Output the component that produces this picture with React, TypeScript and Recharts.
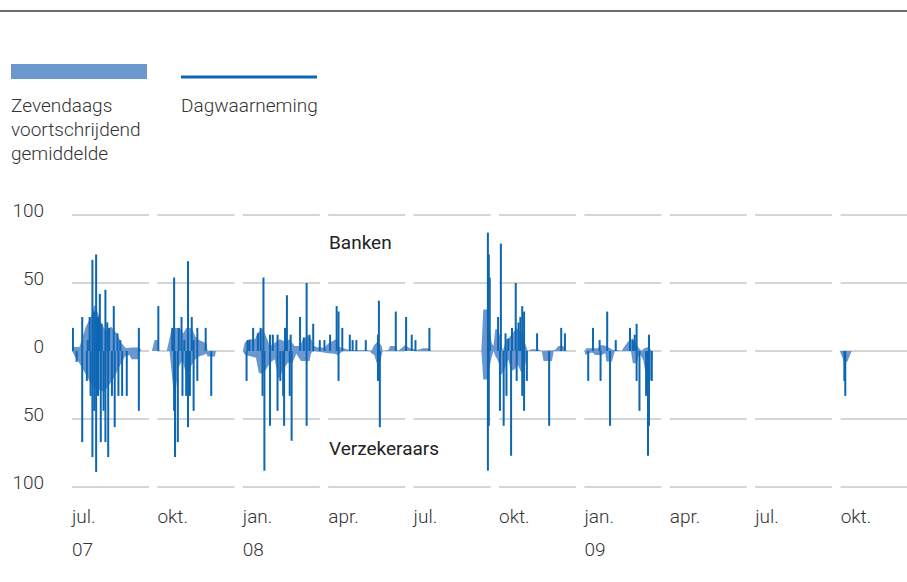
import { Area, Bar, CartesianGrid, ComposedChart, XAxis, YAxis } from 'recharts'

// dagwaarneming banken (datum, waarde)
const bankDaily: [string, number][] = [
  ['2007-07-02', 17], ['2007-07-12', 25], ['2007-07-18', 8], ['2007-07-20', 25], ['2007-07-23', 67],
  ['2007-07-25', 29], ['2007-07-27', 71], ['2007-07-29', 25], ['2007-07-31', 42], ['2007-08-02', 20],
  ['2007-08-06', 45], ['2007-08-08', 21], ['2007-08-10', 17], ['2007-08-15', 33], ['2007-08-19', 13],
  ['2007-08-22', 8], ['2007-09-11', 17],
  ['2007-10-02', 33], ['2007-10-17', 17], ['2007-10-19', 54], ['2007-10-24', 17], ['2007-10-27', 25],
  ['2007-10-30', 8], ['2007-11-03', 66], ['2007-11-07', 25], ['2007-11-09', 8], ['2007-11-13', 17],
  ['2007-11-22', 17],
  ['2008-01-06', 8], ['2008-01-08', 8], ['2008-01-12', 17], ['2008-01-17', 13], ['2008-01-20', 17],
  ['2008-01-23', 54], ['2008-01-30', 12], ['2008-02-02', 12], ['2008-02-07', 12], ['2008-02-15', 17],
  ['2008-02-17', 41], ['2008-02-21', 12], ['2008-03-02', 25], ['2008-03-06', 10], ['2008-03-09', 50],
  ['2008-03-12', 12], ['2008-03-16', 20], ['2008-03-23', 8], ['2008-03-28', 8],
  ['2008-04-03', 12], ['2008-04-10', 33], ['2008-04-12', 29], ['2008-04-16', 17], ['2008-04-24', 12],
  ['2008-04-27', 8], ['2008-05-01', 8], ['2008-05-11', 8], ['2008-05-24', 12], ['2008-05-25', 37],
  ['2008-06-12', 29], ['2008-06-23', 25], ['2008-06-29', 12],
  ['2008-07-03', 8], ['2008-07-18', 17], ['2008-09-19', 87], ['2008-09-20', 71], ['2008-09-21', 54],
  ['2008-09-30', 25],
  ['2008-10-03', 79], ['2008-10-08', 13], ['2008-10-11', 9], ['2008-10-15', 17], ['2008-10-19', 50],
  ['2008-10-22', 21], ['2008-10-24', 25], ['2008-10-26', 33], ['2008-10-28', 29], ['2008-11-11', 13],
  ['2008-12-07', 17], ['2008-12-11', 13],
  ['2009-01-10', 17], ['2009-01-17', 8], ['2009-01-25', 29], ['2009-02-03', 8], ['2009-02-18', 17],
  ['2009-02-21', 8], ['2009-02-23', 12], ['2009-02-25', 20], ['2009-03-10', 12],
]

// dagwaarneming verzekeraars
const insurerDaily: [string, number][] = [
  ['2007-07-06', -8], ['2007-07-12', -67], ['2007-07-17', -22], ['2007-07-21', -33], ['2007-07-23', -78],
  ['2007-07-25', -44], ['2007-07-27', -89], ['2007-07-29', -33], ['2007-08-01', -67], ['2007-08-04', -44],
  ['2007-08-06', -67], ['2007-08-09', -78], ['2007-08-13', -33], ['2007-08-16', -56], ['2007-08-20', -33],
  ['2007-08-24', -33], ['2007-08-29', -33], ['2007-09-11', -44],
  ['2007-10-19', -44], ['2007-10-20', -78], ['2007-10-23', -67], ['2007-10-28', -33], ['2007-11-01', -33],
  ['2007-11-03', -56], ['2007-11-05', -33], ['2007-11-09', -44], ['2007-11-13', -22], ['2007-11-28', -33],
  ['2008-01-05', -22], ['2008-01-22', -33], ['2008-01-24', -88], ['2008-01-30', -55], ['2008-02-07', -44],
  ['2008-02-10', -22], ['2008-02-13', -33], ['2008-02-14', -55], ['2008-02-20', -33], ['2008-02-22', -66],
  ['2008-03-09', -55],
  ['2008-04-12', -22], ['2008-05-24', -22], ['2008-05-26', -56],
  ['2008-09-19', -88], ['2008-09-20', -55],
  ['2008-10-02', -44], ['2008-10-06', -55], ['2008-10-09', -33], ['2008-10-14', -77], ['2008-10-20', -22],
  ['2008-10-26', -33], ['2008-10-28', -44], ['2008-10-31', -22], ['2008-11-24', -55],
  ['2009-01-05', -22], ['2009-01-18', -22], ['2009-01-28', -55], ['2009-02-25', -22], ['2009-02-28', -44],
  ['2009-03-07', -33], ['2009-03-09', -77], ['2009-03-10', -55], ['2009-03-13', -22],
  ['2009-10-05', -22], ['2009-10-06', -33],
]

// zevendaags voortschrijdend gemiddelde banken
const bankAvg: [string, number][] = [
  ['2007-07-01', 0], ['2007-07-02', 3], ['2007-07-09', 3], ['2007-07-16', 18], ['2007-07-22', 26],
  ['2007-07-25', 34], ['2007-07-29', 28], ['2007-08-02', 20], ['2007-08-07', 14], ['2007-08-12', 18],
  ['2007-08-18', 13], ['2007-08-23', 6], ['2007-08-28', 2], ['2007-09-03', 2.5], ['2007-09-12', 2.5],
  ['2007-09-14', 0], ['2007-09-25', 0], ['2007-09-28', 8],
  ['2007-10-02', 8], ['2007-10-03', 0], ['2007-10-11', 0], ['2007-10-16', 15], ['2007-10-20', 17],
  ['2007-10-25', 17], ['2007-10-29', 13], ['2007-11-01', 17], ['2007-11-07', 17], ['2007-11-11', 10.5],
  ['2007-11-15', 8], ['2007-11-23', 5.6], ['2007-11-24', 0],
  ['2008-01-01', 0], ['2008-01-03', 6], ['2008-01-08', 8.6], ['2008-01-14', 8.6], ['2008-01-17', 13.5],
  ['2008-01-21', 16], ['2008-01-22', 17], ['2008-01-25', 12], ['2008-01-30', 3.7], ['2008-02-04', 6],
  ['2008-02-09', 8.6], ['2008-02-15', 7], ['2008-02-20', 8.6], ['2008-02-25', 3.7], ['2008-03-02', 3.7],
  ['2008-03-05', 8.6], ['2008-03-12', 12], ['2008-03-17', 3.7], ['2008-03-21', 2.5], ['2008-03-28', 2.5],
  ['2008-04-01', 5.6], ['2008-04-10', 9], ['2008-04-13', 3], ['2008-04-17', 2], ['2008-04-24', 0.7],
  ['2008-05-12', 0.7], ['2008-05-17', 0], ['2008-05-20', 4.4], ['2008-05-24', 7], ['2008-05-28', 3.7],
  ['2008-05-29', 0], ['2008-06-04', 0.7], ['2008-06-06', 3.7], ['2008-06-12', 3.7], ['2008-06-14', 0],
  ['2008-06-18', 2], ['2008-06-22', 4.4], ['2008-06-27', 2],
  ['2008-07-05', 0.7], ['2008-07-11', 2], ['2008-07-18', 2], ['2008-07-20', 0], ['2008-09-12', 0],
  ['2008-09-14', 30.6], ['2008-09-18', 30.6], ['2008-09-21', 18], ['2008-09-23', 6], ['2008-09-25', 3.7],
  ['2008-09-27', 16], ['2008-09-30', 16],
  ['2008-10-03', 8.6], ['2008-10-05', 0], ['2008-10-09', 8.6], ['2008-10-12', 10], ['2008-10-16', 13.5],
  ['2008-10-20', 17], ['2008-10-23', 14.7], ['2008-10-27', 11], ['2008-10-30', 3.7], ['2008-11-01', 0],
  ['2008-11-05', 1.2], ['2008-11-12', 1.2], ['2008-11-16', 0], ['2008-11-30', 0.5], ['2008-12-04', 3.7],
  ['2008-12-09', 3.7], ['2008-12-13', 0],
  ['2009-01-01', 0], ['2009-01-03', 2], ['2009-01-15', 2], ['2009-01-19', 4.4], ['2009-01-24', 3.7],
  ['2009-01-28', 2], ['2009-01-31', 0.7], ['2009-02-05', 0.7], ['2009-02-09', 0], ['2009-02-12', 3.2],
  ['2009-02-16', 6.9], ['2009-02-21', 9.3], ['2009-02-25', 4.4], ['2009-03-02', 0], ['2009-03-05', 2],
  ['2009-03-10', 3.2], ['2009-03-13', 0],
]

// zevendaags voortschrijdend gemiddelde verzekeraars
const insurerAvg: [string, number][] = [
  ['2007-07-01', 0], ['2007-07-04', -4], ['2007-07-09', -9], ['2007-07-15', -16], ['2007-07-20', -22.5],
  ['2007-07-25', -27], ['2007-07-31', -29], ['2007-08-05', -30], ['2007-08-10', -25], ['2007-08-16', -19],
  ['2007-08-21', -11.5], ['2007-08-27', -4], ['2007-09-01', -3], ['2007-09-03', -6], ['2007-09-11', -6],
  ['2007-09-12', 0],
  ['2007-10-14', 0], ['2007-10-18', -27], ['2007-10-21', -27], ['2007-10-24', -11.5], ['2007-10-28', -6.6],
  ['2007-11-01', -17.6], ['2007-11-05', -12.7], ['2007-11-10', -6.6], ['2007-11-15', -4], ['2007-11-23', -2],
  ['2007-11-24', -4], ['2007-12-02', -4], ['2007-12-03', 0],
  ['2008-01-01', 0], ['2008-01-03', -2.5], ['2008-01-08', -3.7], ['2008-01-15', -5], ['2008-01-18', -16],
  ['2008-01-22', -17], ['2008-01-26', -13.5], ['2008-01-30', -8.6], ['2008-02-04', -6], ['2008-02-08', -21],
  ['2008-02-13', -13.5], ['2008-02-18', -8.6], ['2008-02-23', -8.6], ['2008-02-27', -2], ['2008-03-03', -7.4],
  ['2008-03-12', -7.4], ['2008-03-14', -1.2], ['2008-03-17', 0],
  ['2008-04-01', -1.7], ['2008-04-08', -2], ['2008-04-11', -3], ['2008-04-17', 0], ['2008-05-15', 0],
  ['2008-05-17', -1.7], ['2008-05-20', -3], ['2008-05-24', -11.5], ['2008-05-26', -9], ['2008-05-29', 0],
  ['2008-09-12', 0], ['2008-09-14', -21], ['2008-09-18', -21], ['2008-09-21', -11], ['2008-09-23', -5],
  ['2008-09-25', 0], ['2008-09-27', -3.7], ['2008-09-29', -6],
  ['2008-10-02', -11], ['2008-10-03', -18], ['2008-10-07', -13.5], ['2008-10-11', -6], ['2008-10-14', -14.7],
  ['2008-10-18', -13.5], ['2008-10-21', -9.8], ['2008-10-25', -16], ['2008-10-29', -11], ['2008-11-01', 0],
  ['2008-11-16', 0], ['2008-11-18', -7.4], ['2008-11-27', -7.4], ['2008-11-29', 0],
  ['2009-01-01', 0], ['2009-01-02', -3], ['2009-01-07', -1.2], ['2009-01-10', -1.2], ['2009-01-12', -3],
  ['2009-01-19', -3], ['2009-01-23', -1.7], ['2009-01-24', -7.8], ['2009-01-30', -7.8], ['2009-02-02', 0],
  ['2009-02-19', 0], ['2009-02-21', -9], ['2009-02-25', -9], ['2009-02-28', -1.7], ['2009-03-04', -6.6],
  ['2009-03-07', -19], ['2009-03-10', -24], ['2009-03-12', -21], ['2009-03-14', 0],
  ['2009-09-30', 0], ['2009-10-05', -8], ['2009-10-08', -8], ['2009-10-13', 0],
]

const monthLabels = ['jul.', 'okt.', 'jan.', 'apr.', 'jul.', 'okt.', 'jan.', 'apr.', 'jul.', 'okt.']
const yearLabels = ['07', '', '08', '', '', '', '09', '', '', '']
const yTicks = [-100, -50, 0, 50, 100]

const BAR = '#0c66b1'
const AREA = '#6b97d0'
const TEXT = '#333'

// every quarter gets the same width, like the original panels
function toX(iso: string) {
  const [y, m, d] = iso.split('-').map(Number)
  const q = Math.floor((m - 1) / 3)
  const start = Date.UTC(y, q * 3, 1)
  const end = Date.UTC(y, q * 3 + 3, 1)
  return (y - 2007) * 4 + q - 2 + (Date.UTC(y, m - 1, d) - start) / (end - start)
}

type Row = { date: string; x: number; bank?: number; ins?: number; bankAvg?: number; insAvg?: number }

function buildRows() {
  const map = new Map<string, Row>()
  const put = (list: [string, number][], key: 'bank' | 'ins' | 'bankAvg' | 'insAvg') => {
    for (const [date, v] of list) {
      const row = map.get(date) || { date, x: toX(date) }
      row[key] = v
      map.set(date, row)
    }
  }
  put(bankDaily, 'bank')
  put(insurerDaily, 'ins')
  put(bankAvg, 'bankAvg')
  put(insurerAvg, 'insAvg')
  return [...map.values()].sort((a, b) => a.x - b.x)
}

const rows = buildRows()

function Spike(props: any) {
  const { x, y, width, height, fill } = props
  if (!height) return <g />
  return <rect x={x + width / 2 - 1} y={Math.min(y, y + height)} width={2} height={Math.abs(height)} fill={fill} />
}

function QuarterTick({ x, y, payload }: any) {
  const i = payload.value
  return (
    <g>
      <text x={x} y={y + 36} fill={TEXT} fontSize={19}>{monthLabels[i]}</text>
      {yearLabels[i] && <text x={x} y={y + 69} fill={TEXT} fontSize={19}>{yearLabels[i]}</text>}
    </g>
  )
}

function ValueTick({ x, y, payload }: any) {
  return (
    <text x={x} y={y + 2} textAnchor="end" fill={TEXT} fontSize={19}>{Math.abs(payload.value)}</text>
  )
}

export default function App() {
  return (
    <div style={{ position: 'relative', width: 907, height: 582, fontFamily: 'Roboto, sans-serif', fontWeight: 300 }}>
      <style>{'body{margin:0}'}</style>
      <div style={{ position: 'absolute', left: 0, top: 0 }}>
        <ComposedChart width={907} height={582} data={rows} stackOffset="sign"
          margin={{ top: 215, right: 0, bottom: 0, left: 0 }}>
          <CartesianGrid vertical={false} stroke="#c8c8c8" strokeWidth={1.5} strokeDasharray="77 8.4" />
          <XAxis type="number" dataKey="x" domain={[0, 9.777]} allowDataOverflow ticks={[0, 1, 2, 3, 4, 5, 6, 7, 8, 9]}
            interval={0} height={95} axisLine={false} tickLine={false} tickSize={0} tickMargin={0} tick={<QuarterTick />} />
          <YAxis type="number" domain={[-100, 100]} ticks={yTicks} width={72} axisLine={false} tickLine={false}
            tickSize={0} tickMargin={28} tick={<ValueTick />} />
          <Area type="linear" dataKey="bankAvg" baseValue={0} connectNulls stroke="none" fill={AREA} fillOpacity={1}
            isAnimationActive={false} />
          <Area type="linear" dataKey="insAvg" baseValue={0} connectNulls stroke="none" fill={AREA} fillOpacity={1}
            isAnimationActive={false} />
          <Bar dataKey="bank" stackId="d" fill={BAR} shape={Spike} isAnimationActive={false} />
          <Bar dataKey="ins" stackId="d" fill={BAR} shape={Spike} isAnimationActive={false} />
        </ComposedChart>
      </div>
      <svg width={907} height={582} style={{ position: 'absolute', left: 0, top: 0, pointerEvents: 'none' }}>
        <line x1={0} x2={907} y1={11} y2={11} stroke="#3a3a3a" strokeWidth={1.5} />
        <rect x={11} y={64} width={136} height={15} fill={AREA} />
        <line x1={181} x2={317} y1={77} y2={77} stroke={BAR} strokeWidth={3} />
        <text x={11} y={112} fill={TEXT} fontSize={19}>Zevendaags</text>
        <text x={11} y={136} fill={TEXT} fontSize={19}>voortschrijdend</text>
        <text x={11} y={160} fill={TEXT} fontSize={19}>gemiddelde</text>
        <text x={181} y={112} fill={TEXT} fontSize={19}>Dagwaarneming</text>
        <text x={329} y={249} fill="#222" fontSize={19} fontWeight={400}>Banken</text>
        <text x={329} y={455} fill="#222" fontSize={19} fontWeight={400}>Verzekeraars</text>
      </svg>
    </div>
  )
}
